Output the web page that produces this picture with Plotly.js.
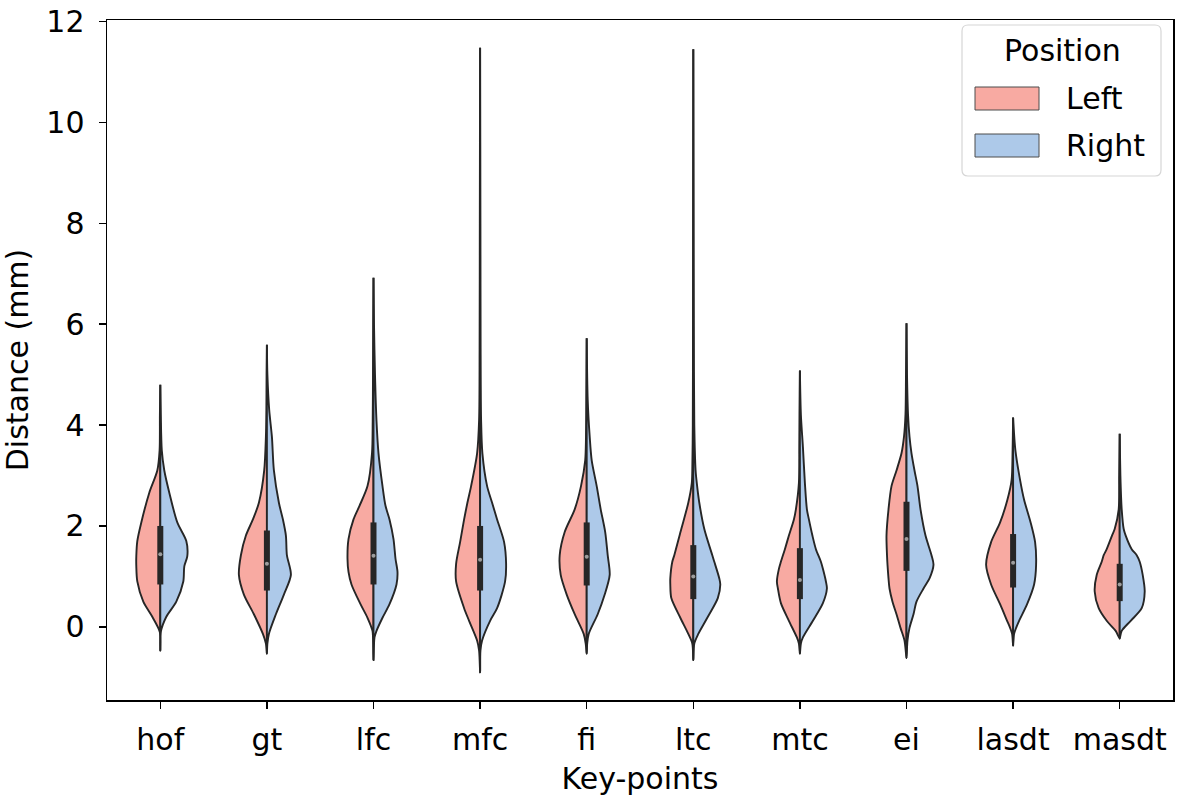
<!DOCTYPE html>
<html>
<head>
<meta charset="utf-8">
<script src="https://cdn.plot.ly/plotly-3.0.1.min.js"></script>
<style>html,body{margin:0;padding:0;background:#fff;} #chart{width:1180px;height:802px;}</style>
</head>
<body>
<div id="chart"></div>
<script>
// ---- Data ----
const categories = ['hof', 'gt', 'lfc', 'mfc', 'fi', 'ltc', 'mtc', 'ei', 'lasdt', 'masdt'];
const sides = ['Left', 'Right'];

// Box statistics (inner box of each split violin)
const q1     = [0.84, 0.72, 0.84, 0.72, 0.82, 0.55, 0.55, 1.11, 0.78, 0.51];
const median = [1.44, 1.25, 1.41, 1.33, 1.39, 1.00, 0.93, 1.74, 1.27, 0.84];
const q3     = [2.00, 1.91, 2.07, 2.00, 2.07, 1.62, 1.56, 2.48, 1.84, 1.25];

// Density profiles: distance levels and relative density (half-width) for Left / Right
const hofY     = [-0.47, -0.1, 0.2, 0.5, 0.9, 1.2, 1.4, 1.7, 2.07, 2.66, 3.1, 3.5, 4.2, 4.8];
const hofLeft  = [0, 0.5, 8, 17, 23, 24, 24, 23, 19, 11, 3, 0.7, 0.4, 0];
const hofRight = [0, 0.5, 6, 16, 23, 24, 27, 26, 17, 9, 4, 1.5, 0.5, 0];

const gtY      = [-0.53, -0.33, -0.14, 0.25, 0.64, 1.03, 1.42, 1.81, 2.13, 2.46, 3.1, 3.77, 4.3, 5.0, 5.59];
const gtLeft   = [0, 1, 4, 13, 23, 28, 26, 21, 14, 8, 2.7, 1, 0.5, 0.3, 0];
const gtRight  = [0, 0.5, 2, 9, 17, 24, 20, 19, 16, 12, 7, 5, 2.3, 0.5, 0];

const lfcY     = [-0.66, -0.21, -0.08, 0.18, 0.45, 0.84, 1.09, 1.35, 1.74, 2.13, 2.4, 2.79, 3.44, 4.08, 5.0, 6.0, 6.92];
const lfcLeft  = [0, 0.5, 1, 6, 13, 22, 25, 26, 25, 20, 14, 6, 1.5, 0.8, 0.5, 0.3, 0];
const lfcRight = [0, 1, 3, 9, 16, 23, 24, 22, 20, 16, 12, 9, 5, 3, 1.5, 0.5, 0];

const mfcY     = [-0.9, -0.47, -0.27, 0.12, 0.37, 0.9, 1.25, 1.68, 2.13, 2.46, 2.79, 3.44, 4.1, 5.5, 8.0, 11.48];
const mfcLeft  = [0, 1, 3, 11, 16, 24, 24, 20, 16, 12.7, 9, 3, 1, 0.5, 0.3, 0];
const mfcRight = [0, 0.3, 2, 10, 17, 25, 26, 24, 17, 12, 7, 2.3, 1, 0.5, 0.3, 0];

const fiY      = [-0.53, -0.33, -0.14, 0.25, 0.64, 1.03, 1.42, 1.88, 2.33, 2.79, 3.3, 3.77, 4.5, 5.72];
const fiLeft   = [0, 1, 3, 12, 20, 26, 27, 22, 12, 5.7, 1.5, 0.7, 0.4, 0];
const fiRight  = [0, 0.5, 2, 11, 18, 23, 21, 18.5, 14, 10, 5, 3, 1, 0];

const ltcY     = [-0.66, -0.33, -0.14, 0.18, 0.57, 0.84, 0.96, 1.29, 1.42, 1.94, 2.46, 2.85, 3.1, 4.0, 6.0, 8.0, 11.45];
const ltcLeft  = [0, 1, 5, 13, 22, 23, 23, 21, 19, 12, 5, 1.5, 1, 0.5, 0.3, 0.2, 0];
const ltcRight = [0, 1, 5, 14, 24.5, 27, 26, 21, 19, 11, 6, 3.5, 2.3, 1, 0.5, 0.3, 0];

const mtcY     = [-0.53, -0.33, -0.21, 0.12, 0.47, 0.76, 0.9, 1.15, 1.29, 1.54, 1.81, 2.13, 2.33, 2.85, 3.57, 4.2, 5.08];
const mtcLeft  = [0, 1, 3, 11, 19, 22, 23, 21, 19, 15, 11, 6, 4, 1, 0.6, 0.4, 0];
const mtcRight = [0, 1, 3, 13, 23, 27, 26, 23, 21, 16, 12.5, 9, 7, 5, 3, 1, 0];

const eiY      = [-0.62, -0.27, -0.02, 0.25, 0.5, 0.76, 0.96, 1.23, 1.42, 1.81, 2.33, 2.79, 3.1, 3.44, 3.77, 4.22, 5.0, 6.02];
const eiLeft   = [0, 2, 6, 10, 14, 17, 18, 19, 19.5, 20, 18, 15, 10, 5, 2.5, 1, 0.5, 0];
const eiRight  = [0, 1, 3, 7, 10, 17, 23, 27, 25, 19, 14, 11, 8, 5, 3, 1.5, 0.5, 0];

const lasdtY     = [-0.37, -0.14, -0.02, 0.12, 0.45, 0.84, 1.23, 1.68, 2.07, 2.52, 2.91, 3.5, 4.15];
const lasdtLeft  = [0, 1, 3, 6, 13, 22, 27, 22, 13, 5.7, 1.5, 0.5, 0];
const lasdtRight = [0, 1, 3, 6, 14, 21, 23, 22, 17.5, 11, 7, 2.3, 0];

const masdtY     = [-0.23, -0.08, 0.12, 0.37, 0.7, 1.03, 1.29, 1.42, 1.54, 1.81, 1.94, 2.33, 3.0, 3.83];
const masdtLeft  = [0, 4, 13, 21, 25, 23, 18, 16, 13, 7.7, 5, 1, 0.5, 0];
const masdtRight = [0, 2, 11, 22, 25, 23, 20, 17, 12, 6, 4, 2, 0.7, 0];

const profileY     = [hofY, gtY, lfcY, mfcY, fiY, ltcY, mtcY, eiY, lasdtY, masdtY];
const profileLeft  = [hofLeft, gtLeft, lfcLeft, mfcLeft, fiLeft, ltcLeft, mtcLeft, eiLeft, lasdtLeft, masdtLeft];
const profileRight = [hofRight, gtRight, lfcRight, mfcRight, fiRight, ltcRight, mtcRight, eiRight, lasdtRight, masdtRight];

// ---- Styling ----
const W = 1180, H = 802;
const M = {l: 107, r: 7, t: 20, b: 102};
const densityScale = 1 / 106.6;      // relative density -> category-axis units
const fillColors = {Left: '#f8aaa2', Right: '#adc9e9'};
const edgeColor = '#262626';
const fontFamily = 'DejaVu Sans, sans-serif';
const fontSize = 30;

const traces = [];
sides.forEach((side) => {
  const sign = side === 'Left' ? -1 : 1;
  const widths = side === 'Left' ? profileLeft : profileRight;
  categories.forEach((cat, i) => {
    const ys = profileY[i];
    const ws = widths[i];
    const xs = [], yy = [];
    for (let k = 0; k < ys.length; k++) { xs.push(i + sign * ws[k] * densityScale); yy.push(ys[k]); }
    for (let k = ys.length - 1; k >= 0; k--) { xs.push(i); yy.push(ys[k]); }
    traces.push({
      type: 'scatter', mode: 'lines', x: xs, y: yy,
      fill: 'toself', fillcolor: fillColors[side],
      line: {color: edgeColor, width: 1.9, shape: 'spline', smoothing: 0.8},
      name: side, legendgroup: side, showlegend: false,
      hoverinfo: 'skip'
    });
  });
});

// inner boxes
const bx = [], by = [];
categories.forEach((c, i) => { bx.push(i, i, null); by.push(q1[i], q3[i], null); });
traces.push({type: 'scatter', mode: 'lines', x: bx, y: by,
  line: {color: edgeColor, width: 6}, showlegend: false, hoverinfo: 'skip'});
traces.push({type: 'scatter', mode: 'markers', x: categories.map((c, i) => i), y: median,
  marker: {color: '#ffffff', size: 4, opacity: 0.55, line: {width: 0}}, showlegend: false, hoverinfo: 'skip'});

// ---- Legend drawn in paper space (matplotlib-style patches) ----
const pw = W - M.l - M.r, ph = H - M.t - M.b;
const px = v => (v - M.l) / pw;
const py = v => (H - M.b - v) / ph;
function roundRect(x0, y0, x1, y1, r) {
  const X0 = px(x0), X1 = px(x1), Y0 = py(y0), Y1 = py(y1);
  const rx = r / pw, ry = r / ph;
  return `M${X0 + rx},${Y0} L${X1 - rx},${Y0} Q${X1},${Y0} ${X1},${Y0 - ry} ` +
         `L${X1},${Y1 + ry} Q${X1},${Y1} ${X1 - rx},${Y1} L${X0 + rx},${Y1} ` +
         `Q${X0},${Y1} ${X0},${Y1 + ry} L${X0},${Y0 - ry} Q${X0},${Y0} ${X0 + rx},${Y0} Z`;
}
const legendBox = {x0: 962, y0: 25, x1: 1161, y1: 176};
const patchX = [975, 1039];
const patchRows = [[87, 110], [134, 157]];
const shapes = [{
  type: 'path', xref: 'paper', yref: 'paper', path: roundRect(legendBox.x0, legendBox.y0, legendBox.x1, legendBox.y1, 6),
  fillcolor: 'rgba(255,255,255,0.85)', line: {color: '#d6d6d6', width: 1.2}, layer: 'above'
}];
const annotations = [{
  xref: 'paper', yref: 'paper', x: px(1062), y: py(51), xanchor: 'center', yanchor: 'middle',
  text: 'Position', showarrow: false, font: {family: fontFamily, size: fontSize, color: '#000'}
}];
sides.forEach((side, s) => {
  shapes.push({type: 'rect', xref: 'paper', yref: 'paper',
    x0: px(patchX[0]), x1: px(patchX[1]), y0: py(patchRows[s][1]), y1: py(patchRows[s][0]),
    fillcolor: fillColors[side], line: {color: '#4d4d4d', width: 1}, layer: 'above'});
  annotations.push({xref: 'paper', yref: 'paper', x: px(1064), y: py((patchRows[s][0] + patchRows[s][1]) / 2),
    xanchor: 'left', yanchor: 'middle', text: side, showarrow: false,
    font: {family: fontFamily, size: fontSize, color: '#000'}});
});

const axisCommon = {
  showline: true, mirror: true, linecolor: '#000', linewidth: 1.5,
  ticks: 'outside', ticklen: 7, tickwidth: 1.5, tickcolor: '#000',
  showgrid: false, zeroline: false, ticklabeloverflow: 'allow',
  tickfont: {family: fontFamily, size: fontSize, color: '#000'}
};

const layout = {
  width: W, height: H,
  margin: M,
  paper_bgcolor: '#fff', plot_bgcolor: '#fff',
  font: {family: fontFamily, size: fontSize, color: '#000'},
  showlegend: false,
  xaxis: Object.assign({}, axisCommon, {
    range: [-0.5, 9.5], tickmode: 'array',
    tickvals: categories.map((c, i) => i), ticktext: categories,
    ticklabelstandoff: 5,
    title: {text: 'Key-points', font: {family: fontFamily, size: fontSize}, standoff: 12}
  }),
  yaxis: Object.assign({}, axisCommon, {
    range: [-1.45, 12.03], tickmode: 'array',
    tickvals: [0, 2, 4, 6, 8, 10, 12],
    ticklabelstandoff: 8,
    title: {text: 'Distance (mm)', font: {family: fontFamily, size: fontSize}, standoff: 14}
  }),
  shapes: shapes,
  annotations: annotations
};

Plotly.newPlot('chart', traces, layout, {staticPlot: true, displayModeBar: false});
</script>
</body>
</html>
